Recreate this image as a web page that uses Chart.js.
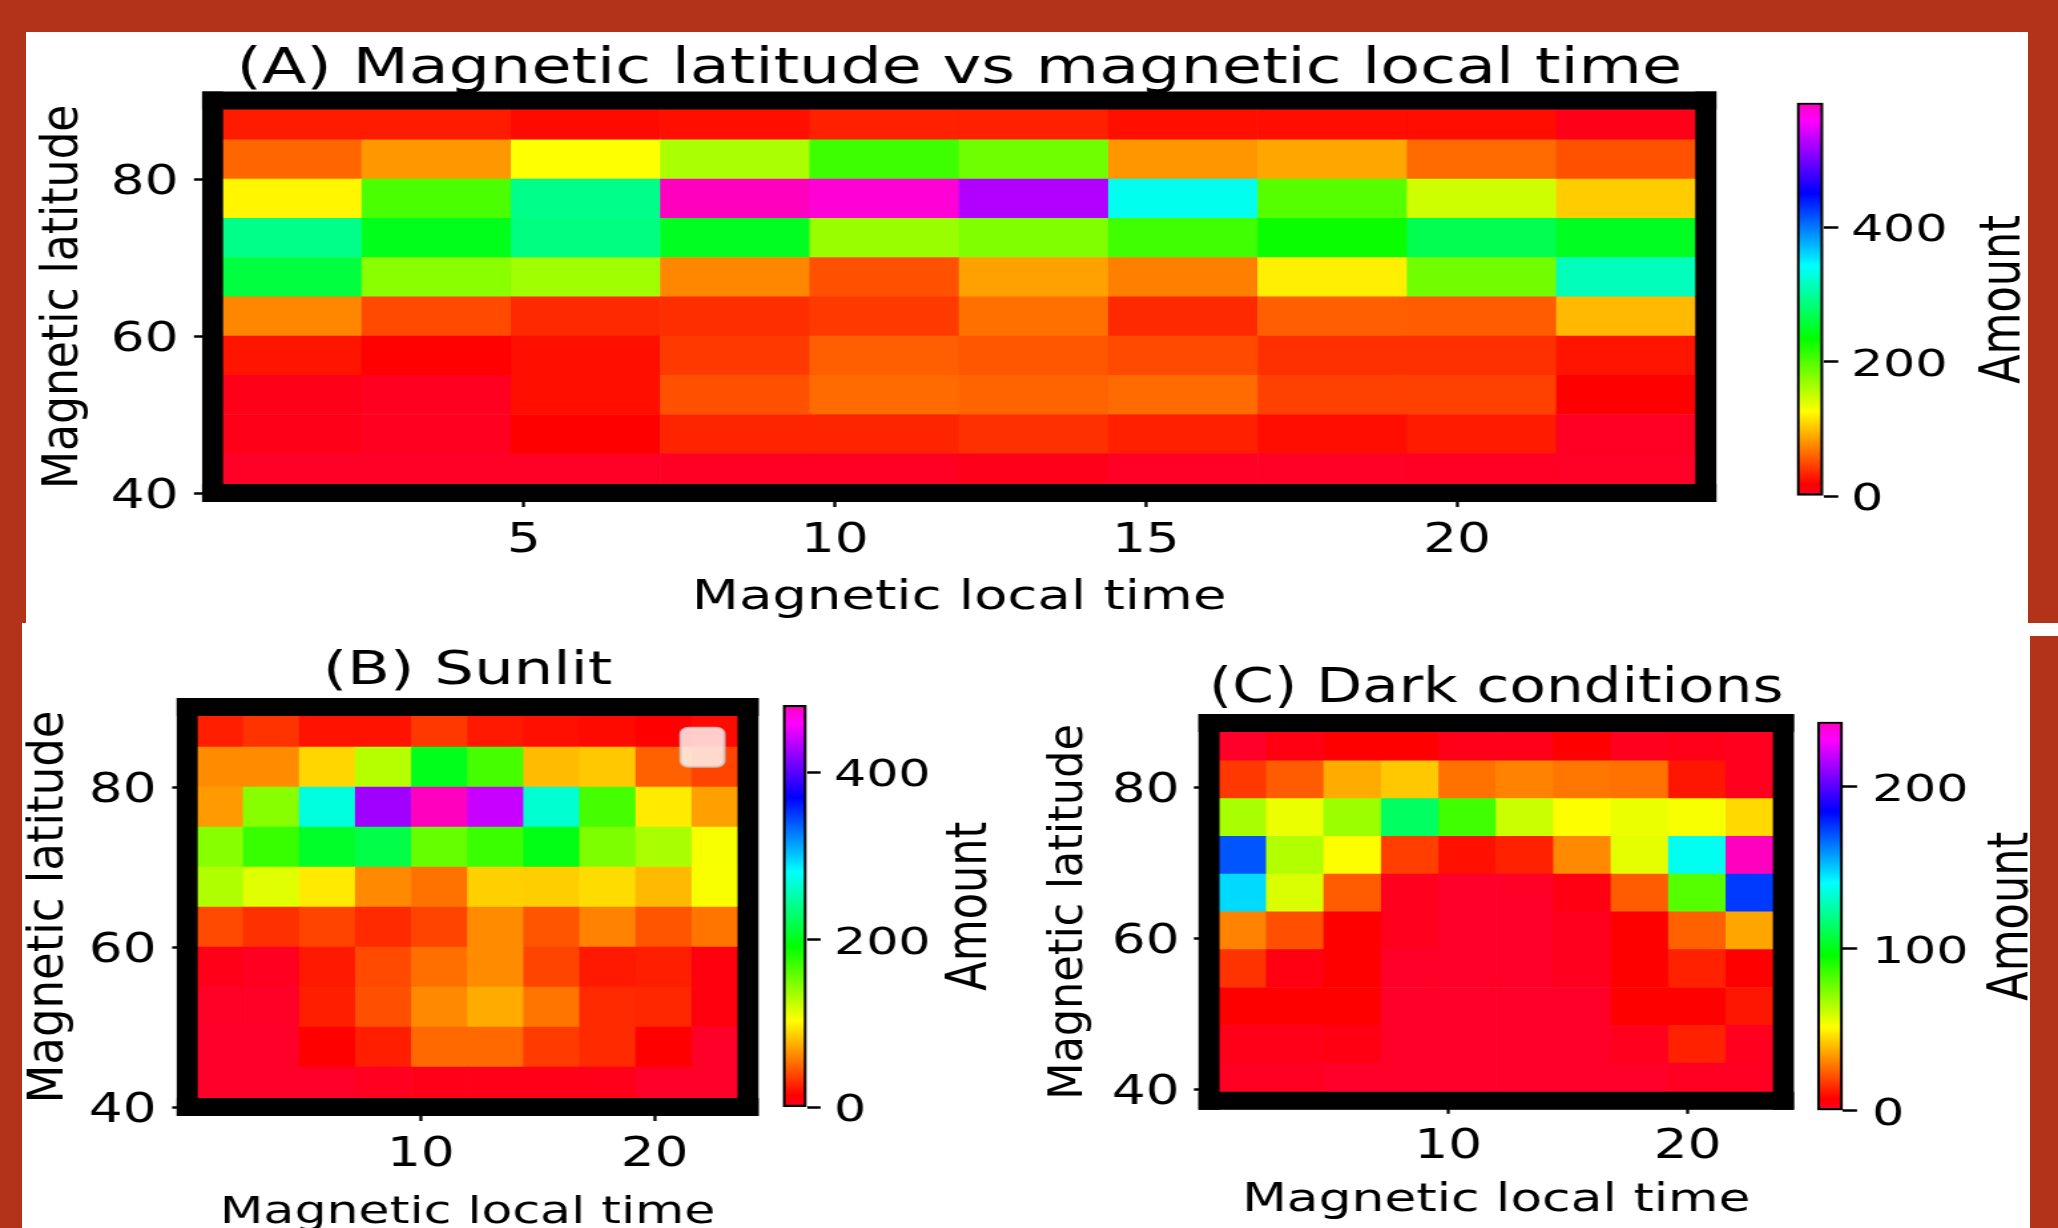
<!DOCTYPE html>
<html>
<head>
<meta charset="utf-8">
<script src="https://cdn.jsdelivr.net/npm/chart.js@4.4.1/dist/chart.umd.min.js"></script>
<style>
  html, body { margin: 0; padding: 0; }
  body { width: 2058px; height: 1228px; background: #b2331a; position: relative; overflow: hidden; }
  .panel { position: absolute; background: #fff; }
  canvas { position: absolute; }
</style>
</head>
<body>
<div class="panel" style="left:26px;top:32px;width:2002px;height:593px"></div>
<div class="panel" style="left:22px;top:623px;width:2008px;height:605px"></div>
<div class="panel" style="left:2030px;top:623px;width:28px;height:13px"></div>
<canvas id="mapAll"></canvas>
<canvas id="barAll"></canvas>
<canvas id="mapSunlit"></canvas>
<canvas id="barSunlit"></canvas>
<canvas id="mapDark"></canvas>
<canvas id="barDark"></canvas>
<script>
Chart.defaults.font.family = '"DejaVu Sans", sans-serif';
Chart.defaults.color = '#000';

// the picture is wider than it is tall, so every canvas is drawn narrow and stretched
const STRETCH = 1.33;

// --- bins ---
const mltEdges = [0, 2.4, 4.8, 7.2, 9.6, 12, 14.4, 16.8, 19.2, 21.6, 24];
const latEdges = [40, 45, 50, 55, 60, 65, 70, 75, 80, 85, 90];
const latEdgesDark = [38.5, 43.5, 48.5, 53.5, 58.5, 63.5, 68.5, 73.5, 78.5, 83.5, 88.5];

// --- tick labels ---
const mltTicksAll = [5, 10, 15, 20];
const mltTicksSplit = [10, 20];
const latTicks = [40, 60, 80];
const amountTicksAll = [0, 200, 400];
const amountTicksSunlit = [0, 200, 400];
const amountTicksDark = [0, 100, 200];

// --- colour scale tops ---
const amountMaxAll = 585;
const amountMaxSunlit = 480;
const amountMaxDark = 240;

// --- counts: one row per latitude bin (lowest first), one column per MLT bin ---
const countsAll = [
  [1, 1, 1, 2, 2, 7, 1, 1, 2, 1],
  [7, 4, 17, 33, 33, 38, 31, 23, 29, 2],
  [7, 4, 24, 52, 63, 60, 63, 45, 45, 17],
  [26, 18, 24, 42, 58, 54, 49, 38, 38, 26],
  [75, 49, 35, 37, 42, 65, 35, 58, 56, 96],
  [261, 176, 166, 75, 52, 86, 72, 119, 186, 314],
  [292, 245, 289, 248, 169, 180, 207, 230, 268, 248],
  [122, 203, 293, 585, 575, 525, 336, 198, 147, 104],
  [61, 82, 126, 162, 208, 187, 81, 88, 63, 52],
  [29, 29, 22, 24, 31, 31, 24, 23, 23, 7]
];
const countsSunlit = [
  [0, 0, 0, 3, 6, 6, 6, 6, 0, 0],
  [0, 0, 14, 25, 51, 51, 35, 29, 14, 0],
  [1, 1, 25, 42, 62, 74, 55, 29, 28, 9],
  [6, 3, 23, 40, 53, 63, 38, 23, 25, 9],
  [40, 31, 38, 29, 38, 63, 44, 60, 44, 55],
  [131, 114, 96, 62, 54, 87, 86, 91, 79, 105],
  [145, 173, 206, 217, 157, 172, 199, 148, 133, 106],
  [68, 145, 270, 425, 480, 439, 265, 168, 96, 70],
  [63, 63, 89, 129, 201, 168, 80, 84, 48, 38],
  [25, 32, 21, 21, 34, 23, 20, 18, 14, 18]
];
const countsDark = [
  [1, 1, 0, 0, 0, 0, 0, 0, 1, 1],
  [3, 3, 4, 0, 0, 0, 0, 2, 13, 2],
  [7, 7, 7, 0, 0, 0, 0, 7, 7, 11],
  [16, 4, 7, 0, 0, 0, 2, 7, 13, 7],
  [30, 21, 7, 2, 0, 0, 2, 7, 24, 36],
  [147, 58, 23, 2, 0, 0, 4, 23, 81, 175],
  [170, 65, 52, 18, 10, 13, 31, 56, 138, 240],
  [67, 55, 69, 113, 85, 61, 52, 55, 53, 45],
  [17, 23, 37, 42, 27, 30, 28, 27, 11, 2],
  [0, 4, 7, 7, 3, 3, 7, 2, 3, 2]
];

// matplotlib's gist_rainbow
const rainbowStops = [
  [0.000, [255, 0, 41]],
  [0.030, [255, 0, 0]],
  [0.215, [255, 255, 0]],
  [0.400, [0, 255, 0]],
  [0.586, [0, 255, 255]],
  [0.770, [0, 0, 255]],
  [0.954, [255, 0, 255]],
  [1.000, [255, 0, 191]]
];

function rainbow(f) {
  f = Math.min(1, Math.max(0, f));
  for (let i = 1; i < rainbowStops.length; i++) {
    const [p1, c1] = rainbowStops[i];
    if (f <= p1) {
      const [p0, c0] = rainbowStops[i - 1];
      const t = (f - p0) / (p1 - p0);
      const c = c0.map((v, k) => Math.round(v + (c1[k] - v) * t));
      return `rgb(${c[0]},${c[1]},${c[2]})`;
    }
  }
  return 'rgb(255,0,191)';
}

function rainbowGradient(chart, max) {
  const y = chart.scales.y;
  if (!y) return '#f00';
  const y0 = y.getPixelForValue(0), y1 = y.getPixelForValue(max);
  // the first pass runs before the layout, when the scale has no pixels yet
  if (!isFinite(y0) || !isFinite(y1) || y0 === y1) return '#f00';
  const g = chart.ctx.createLinearGradient(0, y0, 0, y1);
  rainbowStops.forEach(([p, c]) => g.addColorStop(p, `rgb(${c.join(',')})`));
  return g;
}

// thick black spines round the plot area, plus the empty legend box of panel B
const framePlugin = {
  id: 'frame',
  afterDatasetsDraw(chart, args, opts) {
    if (!opts.band) return;
    const { ctx, chartArea: a } = chart;
    const h = opts.band, v = opts.side;
    ctx.save();
    ctx.fillStyle = '#000';
    ctx.fillRect(a.left - v / 2, a.top - h / 2, a.right - a.left + v, h);
    ctx.fillRect(a.left - v / 2, a.bottom - h / 2, a.right - a.left + v, h);
    ctx.fillRect(a.left - v / 2, a.top - h / 2, v, a.bottom - a.top + h);
    ctx.fillRect(a.right - v / 2, a.top - h / 2, v, a.bottom - a.top + h);
    if (opts.legendBox) {
      const b = opts.legendBox;
      ctx.beginPath();
      ctx.roundRect(b.x, b.y, b.w, b.h, 6);
      ctx.fillStyle = 'rgba(255,255,255,0.8)';
      ctx.fill();
      ctx.lineWidth = 2;
      ctx.strokeStyle = 'rgba(204,204,204,0.8)';
      ctx.stroke();
    }
    ctx.restore();
  }
};

// vertical label read bottom to top (axis / colorbar titles)
const sideLabel = {
  id: 'sideLabel',
  afterDraw(chart, args, opts) {
    if (!opts.text) return;
    const { ctx, chartArea } = chart;
    ctx.save();
    ctx.translate(opts.x, (chartArea.top + chartArea.bottom) / 2);
    ctx.scale(opts.squeeze || 1, 1);
    ctx.rotate(-Math.PI / 2);
    ctx.font = `${opts.size}px "DejaVu Sans"`;
    ctx.fillStyle = '#000';
    ctx.textAlign = 'center';
    ctx.textBaseline = 'middle';
    ctx.fillText(opts.text, 0, 0);
    ctx.restore();
  }
};
Chart.register(framePlugin, sideLabel);

function placeCanvas(id, box) {
  const c = document.getElementById(id);
  c.width = Math.round(box.width / STRETCH);
  c.height = box.height;
  Object.assign(c.style, {
    left: box.left + 'px', top: box.top + 'px',
    width: box.width + 'px', height: box.height + 'px'
  });
  return c;
}

const tickFont = 40;
const barTickFont = 38;
const labelShift = 4.2; // canvas 'middle' sits a little below the digit centres

function drawHeatmap(id, box, area, spec) {
  const c = placeCanvas(id, box);
  const k = c.width / box.width;
  const cx = px => (px - box.left) * k;
  const cy = py => py - box.top;
  const left = cx(area.left), right = cx(area.right);
  const top = cy(area.top), bottom = cy(area.bottom);

  const titleLH = 1.2 * spec.titleSize;
  const titlePadTop = cy(spec.titleY) - titleLH / 2;
  const titlePadBottom = top - titleLH - titlePadTop;

  const labels = mltEdges.slice(0, -1).map((e, i) => ((e + mltEdges[i + 1]) / 2).toFixed(1));
  const lat = spec.latEdges;
  const datasets = spec.counts.map((row, r) => ({
    data: row.map(() => [lat[r], lat[r + 1]]),
    backgroundColor: row.map(v => rainbow(v / spec.max)),
    borderWidth: 0,
    barPercentage: 1,
    categoryPercentage: 1,
    grouped: false,
    xAxisID: 'x',
    yAxisID: 'y'
  }));

  let legendBox = null;
  if (spec.legendBox) {
    const b = spec.legendBox;
    legendBox = { x: cx(b.left), y: cy(b.top), w: b.width * k, h: b.height };
  }

  new Chart(c, {
    type: 'bar',
    data: { labels, datasets },
    options: {
      responsive: false,
      animation: false,
      events: [],
      devicePixelRatio: 1,
      layout: { padding: { left: 0, top: 0, right: c.width - right, bottom: 0 } },
      plugins: {
        legend: { display: false },
        tooltip: { enabled: false },
        title: {
          display: true, text: spec.title, fullSize: false, color: '#000',
          font: { size: spec.titleSize, weight: 'normal' },
          padding: { top: titlePadTop, bottom: titlePadBottom }
        },
        frame: { band: 18, side: 21 * k, legendBox },
        sideLabel: { text: 'Magnetic latitude', size: spec.yTitleSize, x: cx(spec.yTitleX), squeeze: 1.1 * k }
      },
      scales: {
        x: { type: 'category', display: false },
        mlt: {
          type: 'linear', position: 'bottom', min: 0, max: 24,
          offset: false,
          afterBuildTicks: s => { s.ticks = spec.xTicks.map(v => ({ value: v })); },
          afterFit: s => { s.height = box.height - bottom; },
          grid: { offset: false, drawOnChartArea: false, drawTicks: true, tickLength: spec.xTickLen, tickWidth: 2.3, tickColor: '#000' },
          border: { display: false },
          ticks: {
            font: { size: tickFont }, color: '#000', maxRotation: 0, autoSkip: false,
            padding: cy(spec.xTickY) - bottom - spec.xTickLen - 0.6 * tickFont
          },
          title: {
            display: true, text: 'Magnetic local time', color: '#000',
            font: { size: spec.xTitleSize },
            padding: { top: 0, bottom: box.height - cy(spec.xTitleY) - 0.6 * spec.xTitleSize }
          }
        },
        y: {
          type: 'linear', position: 'left', min: lat[0], max: lat[lat.length - 1],
          afterBuildTicks: s => { s.ticks = latTicks.map(v => ({ value: v })); },
          afterFit: s => { s.width = left; },
          grid: { drawOnChartArea: false, drawTicks: true, tickLength: spec.yTickLen, tickWidth: 2.5, tickColor: '#000' },
          border: { display: false },
          ticks: {
            font: { size: tickFont }, color: '#000', autoSkip: false, labelOffset: labelShift,
            padding: left - cx(spec.yTickRight) - spec.yTickLen
          }
        }
      }
    }
  });
}

function drawColorbar(id, box, area, spec) {
  const c = placeCanvas(id, box);
  const k = c.width / box.width;
  const cx = px => (px - box.left) * k;
  const cy = py => py - box.top;
  const left = cx(area.left), right = cx(area.right);
  const top = cy(area.top), bottom = cy(area.bottom);
  const tickLen = spec.tickLen * k;

  new Chart(c, {
    type: 'bar',
    data: {
      labels: ['Amount'],
      datasets: [{
        data: [[0, spec.max]],
        backgroundColor: ctx => rainbowGradient(ctx.chart, spec.max),
        borderColor: '#000',
        borderWidth: 2.5,
        borderSkipped: false,
        barPercentage: 1,
        categoryPercentage: 1
      }]
    },
    options: {
      responsive: false,
      animation: false,
      events: [],
      devicePixelRatio: 1,
      layout: { padding: { left, top, right: 0, bottom: box.height - bottom } },
      plugins: {
        legend: { display: false },
        tooltip: { enabled: false },
        sideLabel: { text: 'Amount', size: 43, x: cx(spec.labelX) }
      },
      scales: {
        x: { display: false },
        y: {
          position: 'right', min: 0, max: spec.max,
          afterBuildTicks: s => { s.ticks = spec.ticks.map(v => ({ value: v })); },
          afterFit: s => { s.width = c.width - right; },
          grid: { drawOnChartArea: false, drawTicks: true, tickLength: tickLen, tickWidth: 2.5, tickColor: '#000' },
          border: { display: false },
          ticks: {
            font: { size: barTickFont }, color: '#000', autoSkip: false, labelOffset: labelShift,
            padding: cx(spec.tickLabelLeft) - right - tickLen
          }
        }
      }
    }
  });
}

// (A) all conditions
drawHeatmap('mapAll',
  { left: 0, top: 0, width: 1760, height: 625 },
  { left: 212.6, right: 1705.8, top: 100.5, bottom: 493 },
  {
    title: '(A) Magnetic latitude vs magnetic local time', titleSize: 49, titleY: 70,
    yTitleX: 64.3, yTitleSize: 44, yTickRight: 178.5, yTickLen: 14,
    xTickY: 542, xTickLen: 14, xTitleY: 598, xTitleSize: 41,
    xTicks: mltTicksAll, latEdges: latEdges, counts: countsAll, max: amountMaxAll
  });
drawColorbar('barAll',
  { left: 1760, top: 0, width: 298, height: 625 },
  { left: 1796.7, right: 1823.3, top: 102.7, bottom: 496 },
  { ticks: amountTicksAll, max: amountMaxAll, tickLen: 15, tickLabelLeft: 1851, labelX: 2005 });

// (B) sunlit
drawHeatmap('mapSunlit',
  { left: 0, top: 623, width: 770, height: 640 },
  { left: 187.2, right: 748, top: 707, bottom: 1107 },
  {
    title: '(B) Sunlit', titleSize: 47, titleY: 671.5,
    yTitleX: 50, yTitleSize: 45, yTickRight: 156.4, yTickLen: 11.3,
    xTickY: 1156, xTickLen: 14, xTitleY: 1213.5, xTitleSize: 38,
    xTicks: mltTicksSplit, latEdges: latEdges, counts: countsSunlit, max: amountMaxSunlit,
    legendBox: { left: 680.6, top: 727.7, width: 43.7, height: 39 }
  });
drawColorbar('barSunlit',
  { left: 770, top: 623, width: 260, height: 640 },
  { left: 782.7, right: 806.7, top: 705, bottom: 1107.3 },
  { ticks: amountTicksSunlit, max: amountMaxSunlit, tickLen: 14, tickLabelLeft: 834, labelX: 971 });

// (C) dark
drawHeatmap('mapDark',
  { left: 1030, top: 623, width: 770, height: 640 },
  { left: 1209, right: 1783.4, top: 723, bottom: 1100.8 },
  {
    title: '(C) Dark conditions', titleSize: 48, titleY: 690,
    yTitleX: 1069.4, yTitleSize: 43, yTickRight: 1179.6, yTickLen: 11.3,
    xTickY: 1147.5, xTickLen: 13, xTitleY: 1201, xTitleSize: 39,
    xTicks: mltTicksSplit, latEdges: latEdgesDark, counts: countsDark, max: amountMaxDark
  });
drawColorbar('barDark',
  { left: 1800, top: 623, width: 258, height: 640 },
  { left: 1817, right: 1843, top: 721.7, bottom: 1110.7 },
  { ticks: amountTicksDark, max: amountMaxDark, tickLen: 14, tickLabelLeft: 1872, labelX: 2013 });
</script>
</body>
</html>
